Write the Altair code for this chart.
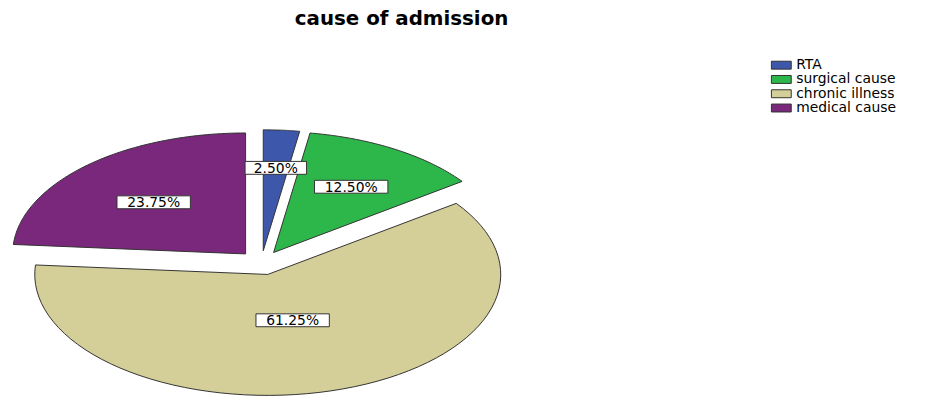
import altair as alt
import pandas as pd

# ---- data ----
categories = ["RTA", "surgical cause", "chronic illness", "medical cause"]
percents = [2.50, 12.50, 61.25, 23.75]
labels = ["2.50%", "12.50%", "61.25%", "23.75%"]
colors = ["#3D57AB", "#2DB74A", "#D4CF98", "#7A287B"]
title_text = "cause of admission"

df = pd.DataFrame({"cat": categories, "pct": percents, "label": labels,
                   "ord": list(range(len(categories)))})

# ---- layout ----
W, H = 936, 390
XDOM = [-1.0877, 2.8953]
YDOM = [-1.104, 2.093]
PX_X = W / (XDOM[1] - XDOM[0])
PX_Y = H / (YDOM[1] - YDOM[0])
EXPLODE = 0.1
N = 72

xs = alt.Scale(domain=XDOM, nice=False, zero=False)
ys = alt.Scale(domain=YDOM, nice=False, zero=False)

base = (
    alt.Chart(df)
    .transform_joinaggregate(total="sum(pct)")
    .transform_window(cum="sum(pct)", sort=[alt.SortField("ord")], frame=[None, 0])
    .transform_calculate(
        a0="2*PI*(datum.cum - datum.pct)/datum.total",
        a1="2*PI*datum.cum/datum.total",
        frac="datum.pct/datum.total",
    )
    .transform_calculate(mid="(datum.a0 + datum.a1)/2")
    .transform_calculate(
        ox=f"{EXPLODE}*sin(datum.mid)",
        oy=f"{EXPLODE}*cos(datum.mid)",
    )
)

slices = (
    base.transform_calculate(step=f"sequence(0, {N + 3})")
    .transform_flatten(["step"])
    .transform_calculate(
        ang=f"datum.a0 + (datum.a1 - datum.a0)*(datum.step - 1)/{N}",
        edge=f"datum.step >= 1 && datum.step <= {N + 1}",
    )
    .transform_calculate(
        px="datum.ox + (datum.edge ? sin(datum.ang) : 0)",
        py="datum.oy + (datum.edge ? cos(datum.ang) : 0)",
    )
    .mark_line(stroke="#333333", strokeWidth=1, strokeJoin="miter", fillOpacity=1)
    .encode(
        x=alt.X("px:Q", scale=xs, axis=None),
        y=alt.Y("py:Q", scale=ys, axis=None),
        order=alt.Order("step:Q"),
        detail="cat:N",
        fill=alt.Fill(
            "cat:N",
            scale=alt.Scale(domain=categories, range=colors),
            legend=alt.Legend(
                title=None,
                orient="none",
                legendX=773,
                legendY=49,
                padding=0,
                symbolType="M-2,-0.8H2V0.8H-2Z",
                symbolSize=100,
                symbolStrokeColor="#333333",
                symbolStrokeWidth=1,
                labelFont="DejaVu Sans",
                labelFontSize=14,
                labelColor="#000000",
                labelOffset=8,
                rowPadding=0.4,
                labelLimit=300,
            ),
        ),
    )
)

labpos = base.transform_calculate(r="0.8 - 0.5*datum.frac").transform_calculate(
    lx="datum.r*sin(datum.mid)",
    ly="datum.r*cos(datum.mid)",
).transform_calculate(
    bx0=f"datum.lx - (length(datum.label)*6 + 1)/{PX_X}",
    bx1=f"datum.lx + (length(datum.label)*6 + 1)/{PX_X}",
    by0=f"datum.ly - 6.5/{PX_Y}",
    by1=f"datum.ly + 6.5/{PX_Y}",
)

boxes = labpos.mark_rect(fill="#ffffff", stroke="#333333", strokeWidth=1).encode(
    x=alt.X("bx0:Q", scale=xs, axis=None),
    x2="bx1:Q",
    y=alt.Y("by0:Q", scale=ys, axis=None),
    y2="by1:Q",
)

texts = labpos.mark_text(font="DejaVu Sans", fontSize=14, color="#000000",
                         baseline="middle", align="center", dy=1).encode(
    x=alt.X("lx:Q", scale=xs, axis=None),
    y=alt.Y("ly:Q", scale=ys, axis=None),
    text="label:N",
)

title = alt.Chart(pd.DataFrame({"t": [title_text]})).mark_text(
    font="DejaVu Sans", fontSize=20, fontWeight="bold", color="#000000",
    baseline="middle", align="center",
).encode(x=alt.value(397), y=alt.value(9), text="t:N")

chart = (
    alt.layer(slices, boxes, texts, title)
    .properties(width=W, height=H, padding=0, autosize="none", background="#ffffff")
    .configure_view(stroke=None)
)

chart.save("out.html", embed_options={"renderer": "svg", "actions": False})
